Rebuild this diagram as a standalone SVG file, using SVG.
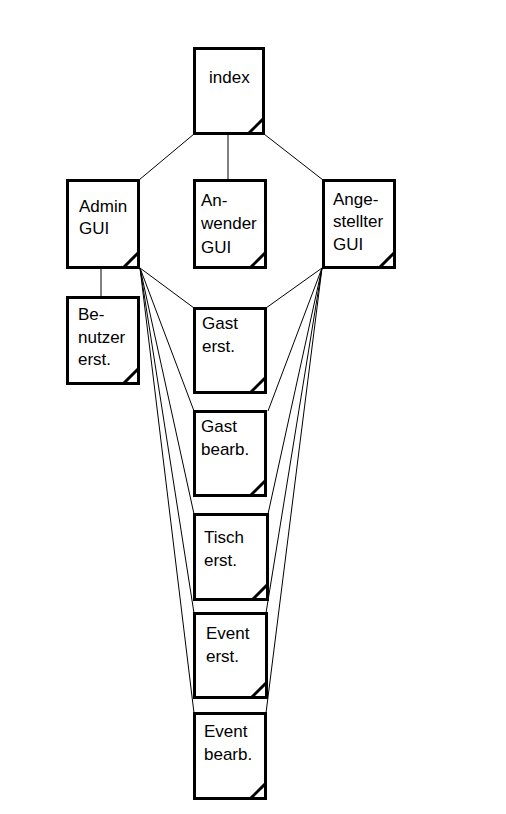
<svg xmlns="http://www.w3.org/2000/svg" width="506" height="814" viewBox="0 0 506 814">
  <style>
    .box { fill: #ffffff; stroke: #000000; stroke-width: 3; }
    .fold { stroke: #000000; stroke-width: 3; fill: none; }
    .lbl { font-family: "Liberation Sans", Arial, sans-serif; font-size: 17px; fill: #000000; }
    .wire { stroke: #000000; stroke-width: 1; fill: none; }
  </style>
  <rect width="506" height="814" fill="#ffffff"/>

  <!-- connectors -->
  <g id="connectors">
    <line class="wire" x1="194" y1="134" x2="139" y2="180"/>
    <line class="wire" x1="228" y1="135" x2="228" y2="179"/>
    <line class="wire" x1="264" y1="134" x2="323" y2="180"/>
    <line class="wire" x1="101" y1="269" x2="101" y2="296"/>
    <!-- Admin GUI fan -->
    <line class="wire" x1="140" y1="268" x2="194" y2="308"/>
    <line class="wire" x1="140" y1="268" x2="194" y2="411"/>
    <line class="wire" x1="140" y1="268" x2="194" y2="514"/>
    <line class="wire" x1="140" y1="268" x2="194" y2="613"/>
    <line class="wire" x1="140" y1="268" x2="194" y2="713"/>
    <!-- Angestellter GUI fan -->
    <line class="wire" x1="322" y1="268" x2="266" y2="308"/>
    <line class="wire" x1="322" y1="268" x2="268" y2="411"/>
    <line class="wire" x1="322" y1="268" x2="268" y2="514"/>
    <line class="wire" x1="322" y1="268" x2="266" y2="613"/>
    <line class="wire" x1="322" y1="268" x2="266" y2="713"/>
  </g>

  <g id="index">
    <rect class="box" x="194.5" y="48.5" width="69" height="85"/>
    <line class="fold" x1="249" y1="133" x2="263" y2="119"/>
    <text class="lbl" x="209" y="83">index</text>
  </g>

  <g id="admin-gui">
    <rect class="box" x="67.5" y="180.5" width="71" height="87"/>
    <line class="fold" x1="124" y1="267" x2="138" y2="253"/>
    <text class="lbl" x="79" y="212">Admin</text>
    <text class="lbl" x="79" y="234">GUI</text>
  </g>

  <g id="anwender-gui">
    <rect class="box" x="194.5" y="180.5" width="71" height="87"/>
    <line class="fold" x1="251" y1="267" x2="265" y2="253"/>
    <text class="lbl" x="201" y="206">An-</text>
    <text class="lbl" x="201" y="229">wender</text>
    <text class="lbl" x="201" y="253">GUI</text>
  </g>

  <g id="angestellter-gui">
    <rect class="box" x="323.5" y="180.5" width="71" height="87"/>
    <line class="fold" x1="380" y1="267" x2="394" y2="253"/>
    <text class="lbl" x="333" y="205">Ange-</text>
    <text class="lbl" x="333" y="227">stellter</text>
    <text class="lbl" x="333" y="250">GUI</text>
  </g>

  <g id="benutzer-erst">
    <rect class="box" x="67.5" y="297.5" width="71" height="86"/>
    <line class="fold" x1="124" y1="383" x2="138" y2="369"/>
    <text class="lbl" x="78" y="320">Be-</text>
    <text class="lbl" x="78" y="343">nutzer</text>
    <text class="lbl" x="78" y="365">erst.</text>
  </g>

  <g id="gast-erst">
    <rect class="box" x="194.5" y="308.5" width="71" height="84"/>
    <line class="fold" x1="251" y1="392" x2="265" y2="378"/>
    <text class="lbl" x="202" y="329">Gast</text>
    <text class="lbl" x="202" y="352">erst.</text>
  </g>

  <g id="gast-bearb">
    <rect class="box" x="194.5" y="411.5" width="71" height="84"/>
    <line class="fold" x1="251" y1="495" x2="265" y2="481"/>
    <text class="lbl" x="201" y="432">Gast</text>
    <text class="lbl" x="201" y="455">bearb.</text>
  </g>

  <g id="tisch-erst">
    <rect class="box" x="194.5" y="514.5" width="73" height="85"/>
    <line class="fold" x1="253" y1="599" x2="267" y2="585"/>
    <text class="lbl" x="204" y="543">Tisch</text>
    <text class="lbl" x="204" y="566">erst.</text>
  </g>

  <g id="event-erst">
    <rect class="box" x="194.5" y="613.5" width="72" height="84"/>
    <line class="fold" x1="252" y1="697" x2="266" y2="683"/>
    <text class="lbl" x="206" y="639">Event</text>
    <text class="lbl" x="206" y="662">erst.</text>
  </g>

  <g id="event-bearb">
    <rect class="box" x="194.5" y="713.5" width="71" height="85"/>
    <line class="fold" x1="251" y1="798" x2="265" y2="784"/>
    <text class="lbl" x="204" y="737">Event</text>
    <text class="lbl" x="204" y="760">bearb.</text>
  </g>
</svg>
